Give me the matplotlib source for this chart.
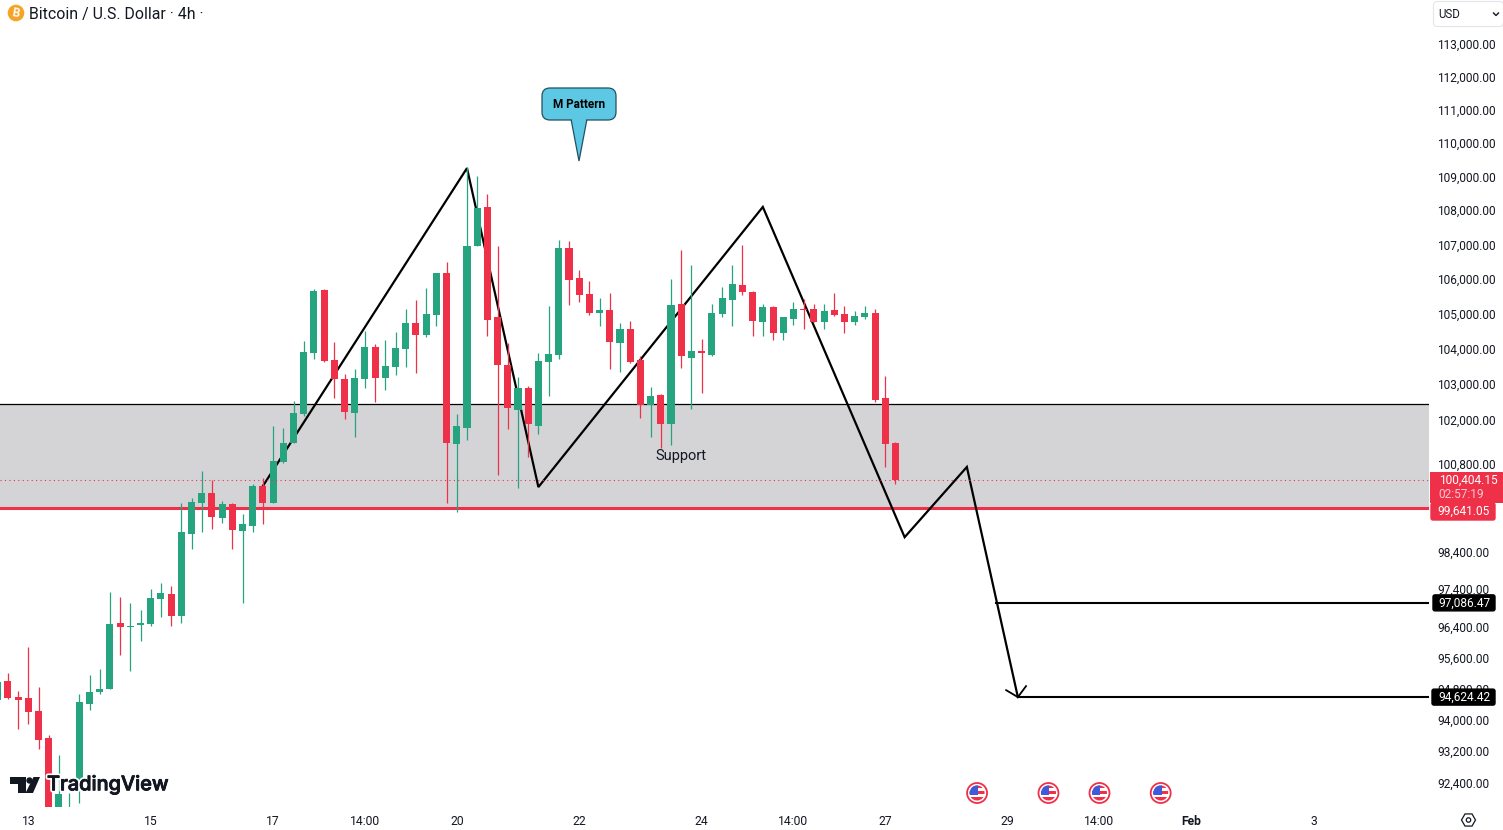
import matplotlib
matplotlib.use("Agg")
import matplotlib.pyplot as plt
import matplotlib.patheffects as pe
from matplotlib.patches import Circle, FancyBboxPatch, Polygon, Rectangle, RegularPolygon
from matplotlib.transforms import ScaledTranslation

first_bar = -3

opens = [94550, 95040, 94620, 94600, 94260, 93570, 91630, 91380, 92530, 94440, 94750, 94830, 96560, 96450, 96500,
         96530, 97190, 97320, 96740, 98930, 99760, 100040, 99360, 99740, 99010, 99140, 100230, 99760, 100890, 101410,
         102210, 103930, 105730, 103730, 103200, 102240, 103200, 104100, 103220, 103530, 104040, 104780, 104440, 105010,
         106220, 101380, 101830, 107000, 108150, 104950, 103590, 102320, 102940, 101880, 103670, 103870, 106950, 106080,
         105610, 105070, 105150, 104210, 104610, 103730, 102460, 102740, 101940, 105330, 103790, 103980, 103870, 105040,
         105440, 105870, 105670, 104810, 105240, 104500, 104900, 105180, 105180, 104810, 105150, 105040, 104810, 104950,
         105070, 102660, 101410]
highs = [95270, 95250, 94780, 95920, 94880, 93650, 93140, 92180, 94700, 95190, 95350, 97370, 97240, 97080, 96900,
         97450, 97610, 97530, 99760, 99900, 100640, 100390, 99820, 99760, 99470, 100280, 100450, 101880, 101830, 102580,
         104270, 105760, 105760, 104240, 103340, 103480, 104560, 104180, 104300, 104530, 105180, 105440, 105790, 106230,
         106540, 102210, 109340, 109070, 108530, 107000, 104210, 103250, 103000, 103930, 105270, 107180, 107150, 106310,
         105990, 105500, 105640, 104780, 104840, 103840, 102970, 102770, 106050, 106890, 106450, 104330, 105330, 105820,
         106450, 107030, 105700, 105330, 105260, 104960, 105380, 105470, 105330, 105330, 105640, 105270, 105130, 105270,
         105180, 103280, 101440]
lows = [94160, 94570, 93800, 93930, 93290, 91630, 91500, 91200, 91930, 94290, 94700, 94830, 95710, 95300, 96080,
        96480, 96710, 96480, 96560, 98520, 98980, 99060, 99220, 98520, 97080, 98980, 99200, 99760, 100860, 101410,
        102160, 103760, 103670, 102660, 102080, 101570, 102940, 102550, 102890, 103310, 103530, 103360, 104390, 104700,
        99760, 99520, 101490, 107000, 104410, 100530, 101800, 100170, 101020, 101660, 102720, 103760, 105300, 105380,
        105010, 104700, 103480, 103390, 103650, 102100, 101570, 101270, 101350, 103510, 102350, 102800, 103840, 104950,
        104700, 105580, 104410, 104410, 104300, 104300, 104730, 104610, 104810, 104610, 104980, 104500, 104730, 104900,
        102550, 100750, 100280]
closes = [95010, 94600, 94550, 94240, 93520, 91630, 92150, 91700, 94500, 94750, 94830, 96530, 96450, 96480, 96560,
          97210, 97350, 96740, 98980, 99790, 100040, 99380, 99740, 99030, 99200, 100230, 99760, 100910, 101410, 102240,
          103960, 105700, 103700, 103200, 102270, 103220, 104100, 103220, 103560, 104070, 104780, 104440, 105040, 106220,
          101410, 101880, 107000, 108120, 104870, 103590, 102380, 102940, 101940, 103700, 103900, 106950, 106020, 105580,
          105070, 105150, 104240, 104610, 103670, 102460, 102720, 101940, 105300, 103840, 103980, 103930, 105070, 105500,
          105900, 105670, 104840, 105240, 104500, 104950, 105180, 105150, 104810, 105130, 105010, 104810, 104980, 105070,
          102600, 101380, 100404.15]

price_ticks = [113000, 112000, 111000, 110000, 109000, 108000, 107000, 106000, 105000, 104000, 103000, 102000,
               100800, 98400, 97400, 96400, 95600, 94800, 94000, 93200, 92400]
time_ticks = [0, 12, 24, 33, 42, 54, 66, 75, 84, 96, 105, 114, 126]
time_labels = ["13", "15", "17", "14:00", "20", "22", "24", "14:00", "27", "29", "14:00", "Feb", "3"]

pattern_bars = [23, 43, 50, 72, 85.9, 92, 97]
pattern_prices = [100230, 109300, 100200, 108150, 98840, 100750, 94624.42]
arrow_bars = [95.85, 97, 97.8]
arrow_prices = [94804, 94624.42, 94908]
zone_top = 102490
support_price = 99641.05
last_price = 100404.15
target_bar_1 = 94.9
target_1 = 97086.47
target_bar_2 = 97
target_2 = 94624.42
event_bars = [93, 100, 105, 111]

GREEN = "#26a480"
RED = "#ee3049"
INK = "#131722"

plt.rcParams["font.family"] = ["Roboto", "DejaVu Sans"]

fig = plt.figure(figsize=(15.03, 8.30), dpi=100, facecolor="white")
ax = fig.add_axes([0, 23 / 830, 1429 / 1503, 807 / 830])
ax.set_yscale("log")
ax.set_xlim(-2.775, 137.3)
ax.set_ylim(91832, 114426)
for s in ax.spines.values():
    s.set_visible(False)

ax.axhspan(support_price, zone_top, color="#d4d4d7", lw=0, zorder=1)
ax.axhline(zone_top, color="black", lw=0.9, zorder=2)
ax.axhline(support_price, color=RED, lw=2.2, zorder=2)
ax.plot(pattern_bars, pattern_prices, color="black", lw=1.6, zorder=3, solid_joinstyle="miter")
ax.plot(arrow_bars, arrow_prices, color="black", lw=1.3, zorder=3)
ax.plot([target_bar_1, 137.3], [target_1, target_1], color="black", lw=1.5, zorder=3)
ax.plot([target_bar_2, 137.3], [target_2, target_2], color="black", lw=1.5, zorder=3)

bars = [first_bar + i for i in range(len(opens))]
colors = [GREEN if c >= o else RED for o, c in zip(opens, closes)]
ax.vlines(bars, lows, highs, colors=colors, lw=0.9, zorder=4)
ax.bar(bars, [abs(c - o) for o, c in zip(opens, closes)], bottom=[min(o, c) for o, c in zip(opens, closes)],
       width=0.69, color=colors, lw=0, zorder=5)
ax.axhline(last_price, color=RED, lw=0.8, ls=(0, (1, 3)), zorder=6)

ax.text(64, 101045, "Support", fontsize=10.5, color=INK, ha="center", va="center", zorder=7)

ax.yaxis.tick_right()
ax.set_yticks(price_ticks, [f"{p:,.2f}" for p in price_ticks])
ax.minorticks_off()
ax.set_xticks(time_ticks, time_labels)
ax.tick_params(axis="y", length=0, pad=6, labelsize=8.55, labelcolor=INK)
ax.tick_params(axis="x", length=0, pad=6, labelsize=8.7, labelcolor=INK)
for t in ax.get_xticklabels():
    if t.get_text() == "Feb":
        t.set_fontweight("bold")
for t in ax.get_yticklabels():
    t.set_transform(t.get_transform() + ScaledTranslation(0, 0.018, fig.dpi_scale_trans))

# overlay in image pixels for the tags, header, logo and badges
ov = fig.add_axes([0, 0, 1, 1], zorder=10)
ov.set_xlim(0, 1503)
ov.set_ylim(830, 0)
ov.axis("off")
ov.patch.set_alpha(0)


def price_y(price):
    return 830 - ax.transData.transform((0, price))[1]


def tag(y, text, left, right, color, height=16):
    ov.add_patch(FancyBboxPatch((left + 1, y - height / 2), right - left - 2, height,
                                boxstyle="round,pad=0,rounding_size=2", fc=color, ec=color, lw=1))
    ov.text(1464, y, text, color="white", fontsize=8.55, ha="center", va="center")


# last price block and level tags
ov.add_patch(Rectangle((1430, 472), 73, 31, fc=RED, ec="none"))
ov.text(1468, 480, "100,404.15", color="white", fontsize=8.55, ha="center", va="center")
ov.text(1461, 494, "02:57:19", color="#fbc6cd", fontsize=8.55, ha="center", va="center")
tag(511.5, "99,641.05", 1430, 1496, RED, height=17)
tag(price_y(target_1), "97,086.47", 1432, 1496, "black")
tag(price_y(target_2), "94,624.42", 1431, 1496, "black")

# header
ov.add_patch(Circle((16, 13), 8.3, fc="#f7a325", ec="none"))
ov.text(16, 13.3, "B", color="white", fontsize=8.5, fontweight="bold", ha="center", va="center", rotation=-10)
ov.text(29, 14, "Bitcoin / U.S. Dollar · 4h ·", color=INK, fontsize=11.45, ha="left", va="center")

ov.add_patch(FancyBboxPatch((1433.5, 1.5), 70, 25, boxstyle="round,pad=0,rounding_size=4", fc="white",
                            ec="#e3e5ea", lw=0.8))
ov.text(1438, 14, "USD", color=INK, fontsize=8.3, ha="left", va="center")
ov.plot([1493.5, 1496, 1498.5], [13, 15.5, 13], color=INK, lw=1)

# m pattern badge
ov.add_patch(Polygon([(571, 119), (587, 119), (579, 161)], closed=True, fc="#5dc8e3", ec="#24505f", lw=0.9))
ov.add_patch(FancyBboxPatch((542, 88), 74, 32, boxstyle="round,pad=0,rounding_size=8", fc="#5dc8e3",
                            ec="#24505f", lw=0.9))
ov.add_patch(Rectangle((572, 117), 14, 4, fc="#5dc8e3", ec="none"))
ov.text(579, 104.7, "M Pattern", color="black", fontsize=8.5, fontweight="bold", ha="center", va="center")

# logo
halo = [pe.withStroke(linewidth=3.2, foreground="white"), pe.withStroke(linewidth=0.6, foreground=INK)]
ov.add_patch(Polygon([(10, 777), (26, 777), (26, 793), (18, 793), (18, 784), (10, 784)], fc=INK, ec="none"))
ov.add_patch(Circle((29.5, 780.5), 3.2, fc=INK, ec="none"))
ov.add_patch(Polygon([(33.5, 777), (40, 777), (33, 793), (25.5, 793)], fc=INK, ec="none"))
ov.text(47, 785, "TradingView", color=INK, fontsize=14.4, fontweight="medium", family="Inter", ha="left",
        va="center", path_effects=halo)

# us event badges
for b in event_bars:
    x = ax.transData.transform((b, 100000))[0]
    y = 793
    ov.add_patch(Circle((x, y), 10, fc="white", ec=RED, lw=1.3))
    clip = Circle((x, y), 7.5, transform=ov.transData)
    for top, h, c in [(y - 8, 3, RED), (y - 2, 3, RED), (y + 4, 4, RED)]:
        p = ov.add_patch(Rectangle((x - 8, top), 16, h, fc=c, ec="none"))
        p.set_clip_path(clip)
    p = ov.add_patch(Rectangle((x - 8, y - 8), 9, 10, fc="#3f5bd9", ec="none"))
    p.set_clip_path(clip)

# scale settings icon
ov.add_patch(RegularPolygon((1468.5, 820), 6, radius=7, orientation=0.5236, fc="white", ec=INK, lw=0.9))
ov.add_patch(Circle((1468.5, 820), 2.2, fc="white", ec=INK, lw=0.9))

fig.savefig("out.png", dpi=100)
